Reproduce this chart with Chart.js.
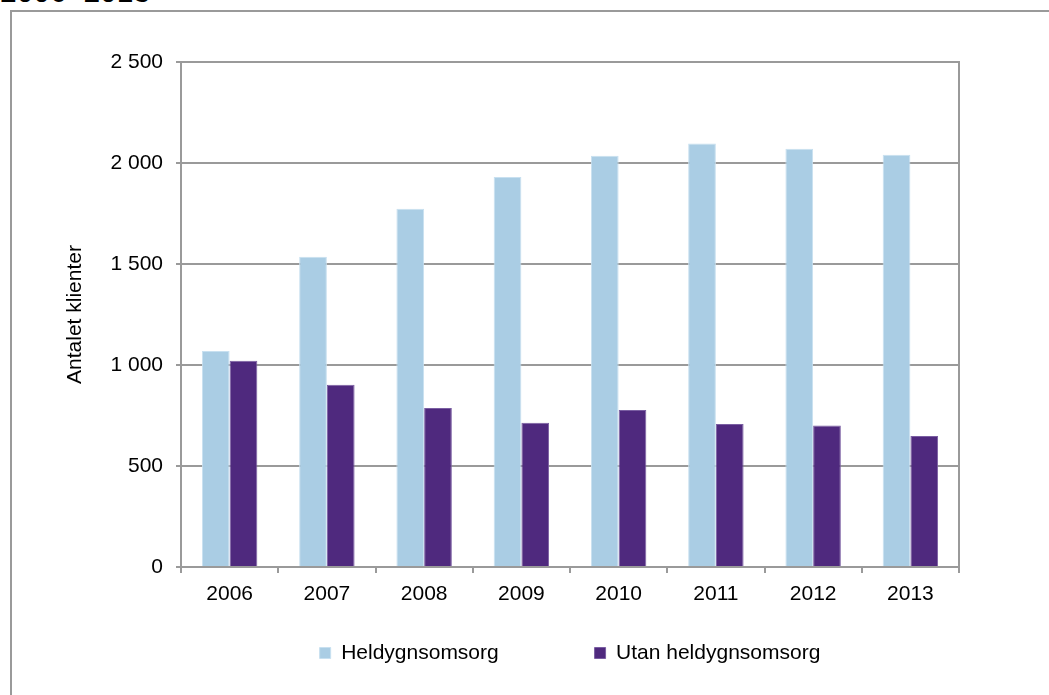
<!DOCTYPE html>
<html>
<head>
<meta charset="utf-8">
<script src="https://cdn.jsdelivr.net/npm/chart.js@4/dist/chart.umd.min.js"></script>
<style>
  html, body { margin: 0; padding: 0; background: #fff; overflow: hidden; }
  #wrap { position: relative; width: 1049px; height: 695px; }
  #frame { position: absolute; left: 10px; top: 10px; width: 1100px; height: 760px;
           border-left: 2px solid #9a9a9a; border-top: 2px solid #9a9a9a; }
  #head { position: absolute; left: 0; top: -23px; font: 30px "Liberation Sans", Arial, sans-serif;
          line-height: 30px; color: #000; white-space: nowrap; }
  canvas { position: absolute; left: 0; top: 0; }
</style>
</head>
<body>
<div id="wrap">
  <div id="head">2006–2013</div>
  <div id="frame"></div>
  <canvas id="chart" width="1049" height="695"></canvas>
</div>
<script>
const years = ['2006', '2007', '2008', '2009', '2010', '2011', '2012', '2013'];
const heldygn = [1069, 1536, 1774, 1931, 2036, 2097, 2071, 2041];
const utanHeldygn = [1021, 902, 787, 714, 777, 708, 700, 649];
const yTickLabels = ['0', '500', '1 000', '1 500', '2 000', '2 500'];

const gridGray = '#9a9a9a';
const font = { family: '"Liberation Sans", Arial, sans-serif', size: 21 };

const ctx = document.getElementById('chart').getContext('2d');
new Chart(ctx, {
  type: 'bar',
  data: {
    labels: years,
    datasets: [
      {
        // trailing spaces widen the gap between the two legend entries
        label: 'Heldygnsomsorg' + ' '.repeat(13),
        data: heldygn,
        backgroundColor: '#aacde4',
        borderColor: '#c8e0f0',
        borderWidth: 1,
        categoryPercentage: 0.57,
        barPercentage: 1.0
      },
      {
        label: 'Utan heldygnsomsorg',
        data: utanHeldygn,
        backgroundColor: '#4f297e',
        borderColor: '#7a5ea2',
        borderWidth: 1,
        categoryPercentage: 0.57,
        barPercentage: 1.0
      }
    ]
  },
  options: {
    responsive: false,
    animation: false,
    layout: { padding: { left: 0, right: 0, top: 62, bottom: 21.5 } },
    plugins: {
      tooltip: { enabled: false },
      legend: {
        position: 'bottom',
        fullSize: false,
        labels: {
          boxWidth: 11,
          boxHeight: 11,
          padding: 20,
          color: '#000',
          font: font
        }
      }
    },
    scales: {
      x: {
        offset: true,
        grid: {
          display: true,
          offset: true,
          drawOnChartArea: false,
          tickLength: 6,
          color: gridGray,
          lineWidth: 2
        },
        border: { color: gridGray, width: 2 },
        ticks: { color: '#000', font: font, padding: 9, maxRotation: 0 },
        afterFit: (scale) => { scale.height = 55.5; }
      },
      y: {
        min: 0,
        max: 2500,
        grid: { color: gridGray, lineWidth: 2, tickLength: 5 },
        border: { color: gridGray, width: 2 },
        ticks: {
          stepSize: 500,
          color: '#000',
          font: font,
          padding: 13,
          callback: (v, i) => yTickLabels[i]
        },
        title: {
          display: true,
          text: 'Antalet klienter',
          color: '#000',
          font: font,
          padding: { top: 62.4, bottom: 0 }
        },
        afterFit: (scale) => { scale.width = 181; }
      },
      yRight: {
        position: 'right',
        min: 0,
        max: 2500,
        grid: { drawOnChartArea: false, drawTicks: false },
        border: { display: true, color: gridGray, width: 2 },
        ticks: { display: false },
        afterFit: (scale) => { scale.width = 90; }
      }
    }
  }
});
</script>
</body>
</html>
